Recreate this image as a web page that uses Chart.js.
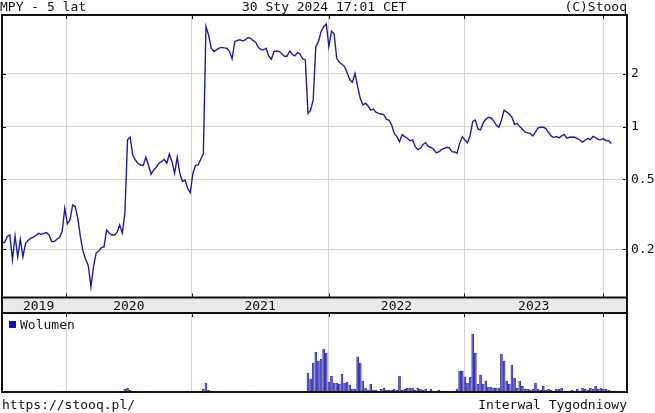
<!DOCTYPE html>
<html>
<head>
<meta charset="utf-8">
<script src="https://cdn.jsdelivr.net/npm/chart.js@4.4.1/dist/chart.umd.min.js"></script>
<style>
body { margin: 0; background: #fff; }
#wrap { position: relative; width: 655px; height: 413px; overflow: hidden; font: 13px "DejaVu Sans Mono", monospace; color: #111; }
.txt { position: absolute; white-space: pre; line-height: 13px; }
canvas { position: absolute; left: 0; }
#legBox { position: absolute; left: 9px; top: 321px; width: 7px; height: 7px; background: #1414b4; }
</style>
</head>
<body>
<div id="wrap">
  <canvas id="priceChart" width="655" height="313" style="top:0"></canvas>
  <canvas id="volChart" width="655" height="82" style="top:312px"></canvas>
  <div class="txt" style="left:0;top:0">MPY - 5 lat</div>
  <div class="txt" style="left:242px;top:0">30 Sty 2024 17:01 CET</div>
  <div class="txt" style="right:28px;top:0">(C)Stooq</div>
  <div id="legBox"></div>
  <div class="txt" style="left:20px;top:318px">Wolumen</div>
  <div class="txt" style="left:2px;top:398px">https://stooq.pl/</div>
  <div class="txt" style="right:28px;top:398px">Interwal Tygodniowy</div>
</div>
<script>
// weekly close
const price = [
  0.218, 0.218, 0.236, 0.241, 0.174, 0.238, 0.181, 0.228, 0.181, 0.216,
  0.224, 0.231, 0.234, 0.240, 0.246, 0.243, 0.246, 0.249, 0.241, 0.221,
  0.221, 0.228, 0.234, 0.252, 0.342, 0.279, 0.293, 0.357, 0.35, 0.30,
  0.234, 0.194, 0.175, 0.161, 0.122, 0.159, 0.19, 0.195, 0.204, 0.206,
  0.257, 0.247, 0.241, 0.241, 0.25, 0.275, 0.247, 0.321, 0.84, 0.87,
  0.689, 0.645, 0.618, 0.604, 0.60, 0.668, 0.604, 0.535, 0.566, 0.586,
  0.618, 0.631, 0.651, 0.618, 0.698, 0.631, 0.542, 0.668, 0.542, 0.486,
  0.496, 0.445, 0.42, 0.542, 0.599, 0.604, 0.651, 0.70, 3.72, 3.33,
  2.8, 2.68, 2.74, 2.8, 2.83, 2.81, 2.80, 2.68, 2.44, 3.05,
  3.10, 3.13, 3.08, 3.12, 3.22, 3.2, 3.09, 3.03, 2.83, 2.75,
  2.74, 2.80, 2.53, 2.42, 2.68, 2.70, 2.68, 2.6, 2.52, 2.52,
  2.70, 2.58, 2.53, 2.64, 2.59, 2.43, 2.40, 1.19, 1.24, 1.42,
  2.86, 3.05, 3.48, 3.72, 3.85, 2.86, 3.5, 3.38, 2.45, 2.33,
  2.27, 2.2, 2.03, 1.85, 1.79, 2.01, 1.69, 1.45, 1.33, 1.36,
  1.31, 1.24, 1.26, 1.21, 1.19, 1.18, 1.17, 1.10, 1.09, 1.02,
  0.916, 0.877, 0.82, 0.90, 0.877, 0.858, 0.83, 0.84, 0.77, 0.74,
  0.752, 0.79, 0.81, 0.77, 0.76, 0.745, 0.71, 0.717, 0.736, 0.749,
  0.762, 0.758, 0.72, 0.717, 0.705, 0.80, 0.877, 0.839, 0.81, 0.885,
  1.07, 1.09, 0.97, 0.957, 1.05, 1.10, 1.13, 1.12, 1.08, 1.02,
  0.99, 1.09, 1.24, 1.21, 1.18, 1.13, 1.03, 1.04, 1.0, 0.966,
  0.932, 0.92, 0.912, 0.885, 0.932, 0.983, 0.991, 0.991, 0.974, 0.925,
  0.885, 0.866, 0.877, 0.862, 0.885, 0.90, 0.858, 0.869, 0.873, 0.869,
  0.854, 0.839, 0.814, 0.839, 0.854, 0.843, 0.88, 0.866, 0.843, 0.843,
  0.854, 0.83, 0.83, 0.80
];

// weekly volume (relative units)
const volume = [
  0, 0, 0, 0, 0, 0, 0, 0, 0, 0, 0, 0, 0, 0, 0, 0, 0, 0, 0, 0,
  0, 0, 0, 1, 0, 0, 0, 0, 0, 0, 0, 0, 0, 0, 0, 0, 0, 0, 0, 0,
  0, 0, 0, 0, 0, 0, 0, 3, 4, 2, 1, 0, 0, 0, 0, 0, 1, 0, 0, 0,
  0, 0, 0, 0, 0, 0, 0, 0, 0, 0, 0, 0, 0, 0, 0, 0, 0, 3, 9, 2,
  1, 0, 0, 0, 0, 0, 0, 0, 0, 0, 0, 0, 0, 0, 0, 1, 0, 0, 0, 0,
  0, 0, 0, 0, 0, 0, 0, 0, 0, 0, 0, 0, 0, 0, 0, 0, 0, 19, 13, 29,
  40, 31, 33, 43, 39, 10, 16, 9, 9, 8, 18, 9, 10, 7, 3, 3, 35, 29, 11, 4,
  2, 8, 2, 2, 1, 3, 4, 2, 2, 2, 3, 2, 16, 2, 3, 4, 4, 4, 2, 4,
  3, 2, 3, 1, 3, 1, 1, 2, 1, 1, 1, 1, 1, 1, 3, 21, 21, 15, 9, 15,
  58, 39, 8, 17, 8, 11, 5, 5, 4, 4, 4, 38, 31, 11, 8, 27, 14, 4, 11, 6,
  3, 3, 2, 3, 9, 3, 2, 6, 2, 3, 2, 1, 3, 3, 4, 1, 1, 1, 2, 1,
  3, 1, 4, 3, 2, 4, 3, 6, 3, 4, 3, 3, 2, 1, 1
];

const years = ['2019', '2020', '2021', '2022', '2023'];
// week index where each year segment starts (first entry only centres the 2019 label)
const yearStartWeek = [3.5, 24.5, 72.5, 124.9, 176.8, 229.9];
const priceTicks = [0.2, 0.5, 1, 2];

Chart.defaults.font.family = 'DejaVu Sans Mono';
Chart.defaults.font.size = 13;
Chart.defaults.color = '#111';

const X_MAX = 239;
const GRID = '#d2d2d2';

function yearTicks(scale) {
  const t = [];
  for (let i = 1; i < yearStartWeek.length; i++) t.push({ value: yearStartWeek[i], edge: true, text: '' });
  years.forEach((y, i) => t.push({ value: (yearStartWeek[i] + yearStartWeek[i + 1]) / 2, edge: false, text: y }));
  t.sort((a, b) => a.value - b.value);
  scale.ticks = t;
}

function drawTicksX(ctx, chart, y0, dir) {
  const xs = chart.scales.x;
  xs.ticks.forEach(t => {
    if (!t.edge) return;
    const px = Math.round(xs.getPixelForValue(t.value)) + 0.5;
    ctx.beginPath(); ctx.moveTo(px, y0); ctx.lineTo(px, y0 + dir * 4); ctx.stroke();
  });
}

const priceFrame = {
  id: 'priceFrame',
  beforeDraw(chart) {
    const { ctx, chartArea: a } = chart;
    ctx.save();
    ctx.fillStyle = '#e9e9e9';
    ctx.fillRect(a.left, a.bottom, a.right - a.left, chart.height - a.bottom);
    ctx.restore();
  },
  afterDraw(chart) {
    const { ctx, chartArea: a } = chart;
    ctx.save();
    ctx.strokeStyle = '#111';
    ctx.lineWidth = 2;
    ctx.strokeRect(a.left, a.top, a.right - a.left, chart.height - a.top);
    ctx.beginPath(); ctx.moveTo(a.left, a.bottom); ctx.lineTo(a.right, a.bottom); ctx.stroke();
    ctx.lineWidth = 1;
    drawTicksX(ctx, chart, a.top, 1);
    drawTicksX(ctx, chart, a.bottom, -1);
    const ys = chart.scales.y;
    priceTicks.forEach(v => {
      const py = Math.round(ys.getPixelForValue(v)) + 0.5;
      ctx.beginPath(); ctx.moveTo(a.left, py); ctx.lineTo(a.left + 4, py); ctx.stroke();
      ctx.beginPath(); ctx.moveTo(a.right - 4, py); ctx.lineTo(a.right, py); ctx.stroke();
    });
    ctx.restore();
  }
};

const volFrame = {
  id: 'volFrame',
  afterDraw(chart) {
    const { ctx, chartArea: a } = chart;
    ctx.save();
    ctx.strokeStyle = '#111';
    ctx.lineWidth = 2;
    ctx.strokeRect(a.left, a.top, a.right - a.left, a.bottom - a.top);
    ctx.lineWidth = 1;
    drawTicksX(ctx, chart, a.top, 1);
    ctx.restore();
  }
};

new Chart(document.getElementById('priceChart'), {
  type: 'line',
  data: {
    datasets: [{
      data: price.map((v, i) => ({ x: i, y: v })),
      borderColor: '#1e1e9e',
      borderWidth: 1.4,
      pointRadius: 0,
      tension: 0,
      fill: false
    }]
  },
  options: {
    responsive: false,
    animation: false,
    layout: { padding: { top: 15, left: 2, right: 0, bottom: 0 } },
    plugins: { legend: { display: false }, tooltip: { enabled: false } },
    scales: {
      x: {
        type: 'linear', min: 0, max: X_MAX, bounds: 'data',
        afterBuildTicks: yearTicks,
        afterFit: s => { s.height = 15.5; },
        grid: { color: c => (c.tick && c.tick.edge ? GRID : 'rgba(0,0,0,0)'), drawTicks: false },
        border: { display: false },
        ticks: {
          autoSkip: false, maxRotation: 0, padding: 1,
          callback: (v, i, t) => t[i].text
        }
      },
      y: {
        type: 'logarithmic', position: 'right', min: 0.106, max: 4.33, bounds: 'data',
        afterBuildTicks: s => { s.ticks = priceTicks.map(v => ({ value: v })); },
        afterFit: s => { s.width = 28; },
        grid: { color: GRID, drawTicks: false },
        border: { display: false },
        ticks: { padding: 4, callback: v => String(v) }
      }
    }
  },
  plugins: [priceFrame]
});

new Chart(document.getElementById('volChart'), {
  type: 'bar',
  data: {
    datasets: [{
      data: volume.map((v, i) => ({ x: i, y: v > 0 ? v : null })),
      backgroundColor: '#6262d6',
      borderColor: '#1c1c84',
      borderWidth: 0.6,
      barThickness: 2
    }]
  },
  options: {
    responsive: false,
    animation: false,
    layout: { padding: { top: 1, left: 2, right: 0, bottom: 2 } },
    plugins: { legend: { display: false }, tooltip: { enabled: false } },
    scales: {
      x: {
        type: 'linear', min: 0, max: X_MAX, bounds: 'data', offset: false,
        afterBuildTicks: yearTicks,
        afterFit: s => { s.height = 0; },
        grid: { color: c => (c.tick && c.tick.edge ? GRID : 'rgba(0,0,0,0)'), drawTicks: false, offset: false },
        border: { display: false },
        ticks: { display: false }
      },
      y: {
        position: 'right', min: 0, max: 79,
        afterFit: s => { s.width = 28; },
        grid: { display: false, drawTicks: false },
        border: { display: false },
        ticks: { display: false }
      }
    }
  },
  plugins: [volFrame]
});
</script>
</body>
</html>
